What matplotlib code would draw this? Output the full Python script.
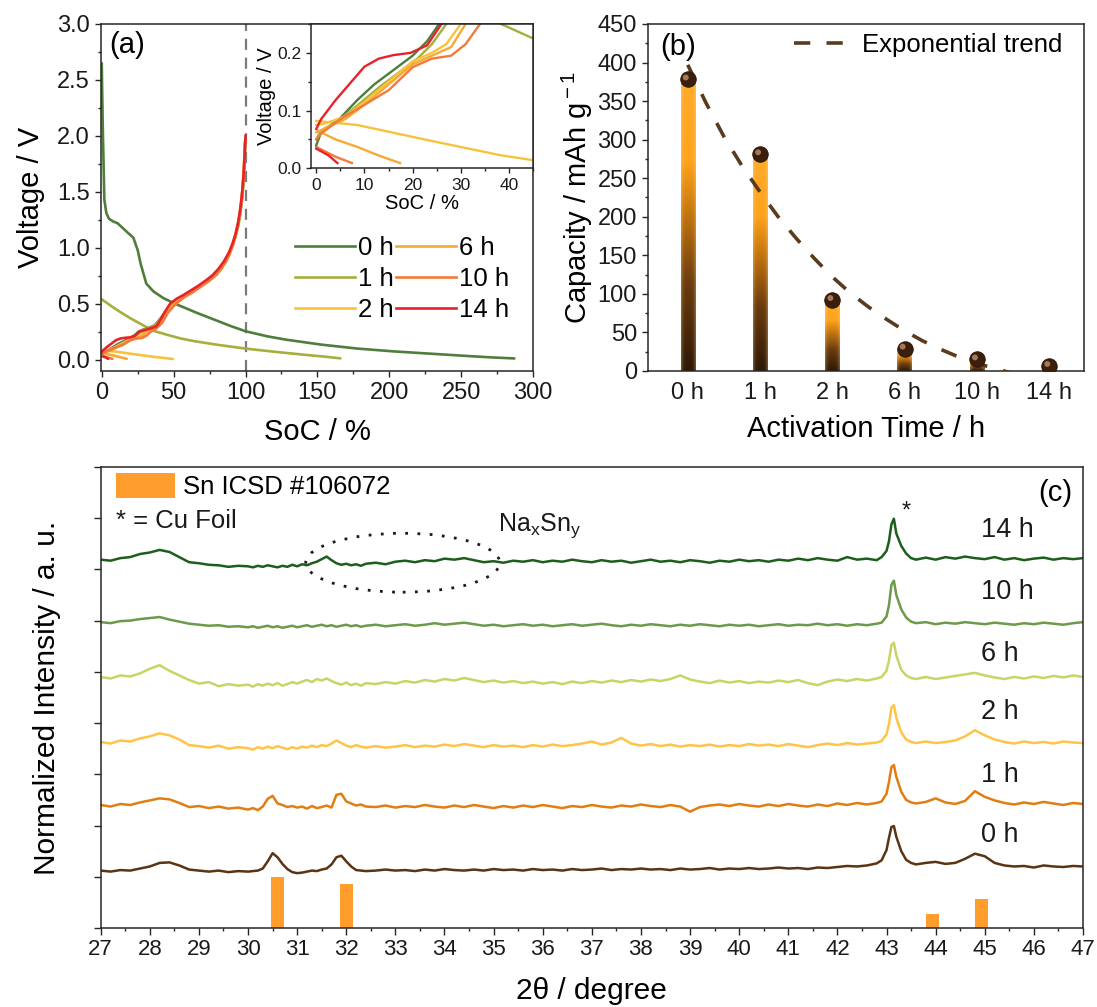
import numpy as np
import matplotlib
matplotlib.use('Agg')
import matplotlib.pyplot as plt
from matplotlib.patches import Ellipse, Patch
from matplotlib.colors import LinearSegmentedColormap
from matplotlib.ticker import MultipleLocator, NullFormatter
import matplotlib.transforms as mtransforms

plt.rcParams['font.family'] = ['Liberation Sans', 'DejaVu Sans']
plt.rcParams['mathtext.fontset'] = 'custom'
plt.rcParams['mathtext.rm'] = 'Liberation Sans'
plt.rcParams['mathtext.it'] = 'Liberation Sans'
plt.rcParams['axes.linewidth'] = 1.1

# ---------------- data: panel (a) ----------------
times = ['0 h', '1 h', '2 h', '6 h', '10 h', '14 h']
colors_a = ['#4f7d3b', '#a6ae3c', '#f6c33b', '#f7a935', '#f27a3a', '#e8222b']

dis_0h_soc = [0, 0.3, 0.8, 1.8, 3.2, 5, 8, 11, 16, 22, 25, 27, 31, 36, 43, 53, 66, 78, 90, 100,
              115, 128, 153, 178, 203, 228, 253, 270, 287]
dis_0h_v = [2.65, 2.4, 2.02, 1.43, 1.31, 1.26, 1.235, 1.22, 1.16, 1.09, 0.98, 0.86, 0.68, 0.61, 0.55,
            0.49, 0.42, 0.36, 0.30, 0.255, 0.21, 0.18, 0.135, 0.1, 0.075, 0.055, 0.035, 0.022, 0.012]
dis_1h_soc = [0, 10, 20, 30, 37, 45, 55, 65, 80, 100, 120, 140, 155, 166]
dis_1h_v = [0.54, 0.45, 0.37, 0.30, 0.255, 0.225, 0.19, 0.165, 0.135, 0.10, 0.072, 0.046, 0.028, 0.013]
dis_2h_soc = [0, 8.5, 23, 38, 45, 49.5]
dis_2h_v = [0.082, 0.075, 0.049, 0.023, 0.014, 0.007]
dis_6h_soc = [0.3, 4, 8.5, 13, 17.4]
dis_6h_v = [0.065, 0.05, 0.037, 0.022, 0.009]
dis_10h_soc = [0, 4, 7.4]
dis_10h_v = [0.037, 0.02, 0.009]
dis_14h_soc = [0, 2.6, 4.4]
dis_14h_v = [0.034, 0.022, 0.009]

chg_0h_soc = [0, 1, 5, 8.5, 12, 16, 20, 23, 25.5, 29, 33, 37, 41, 45, 49, 54, 59, 64, 69, 74,
              79, 83, 87, 90, 92.5, 94.5, 96, 97.3, 98.4, 99.2, 99.8]
chg_0h_v = [0.04, 0.062, 0.087, 0.118, 0.145, 0.17, 0.195, 0.22, 0.25, 0.27, 0.285, 0.31, 0.37, 0.44,
            0.5, 0.545, 0.58, 0.62, 0.665, 0.71, 0.76, 0.82, 0.9, 0.99, 1.08, 1.18, 1.29, 1.41, 1.56,
            1.74, 1.95]
chg_1h_soc = [0, 1, 5, 9, 13, 17, 21, 24, 27, 30, 34, 38, 42, 46, 50, 55, 60, 65, 70, 75,
              80, 84, 88, 90.5, 93, 95, 96.5, 97.7, 98.7, 99.4, 99.9]
chg_1h_v = [0.05, 0.065, 0.085, 0.112, 0.14, 0.165, 0.19, 0.215, 0.25, 0.27, 0.285, 0.32, 0.39, 0.46,
            0.51, 0.55, 0.585, 0.625, 0.665, 0.71, 0.76, 0.83, 0.92, 1.0, 1.1, 1.2, 1.31, 1.44, 1.6,
            1.78, 1.97]
chg_2h_soc = [0, 2, 6, 10, 15, 20, 24, 27, 30, 33, 37, 41, 45, 49, 53, 58, 63, 68, 73, 78,
              82, 86, 89, 91.5, 93.5, 95.3, 96.7, 97.8, 98.8, 99.5]
chg_2h_v = [0.075, 0.078, 0.09, 0.115, 0.15, 0.185, 0.2, 0.215, 0.25, 0.27, 0.29, 0.33, 0.41, 0.48,
            0.53, 0.57, 0.61, 0.655, 0.7, 0.75, 0.8, 0.88, 0.96, 1.05, 1.15, 1.26, 1.38, 1.52, 1.7, 1.92]
chg_6h_soc = [0, 2, 6, 10, 15, 20, 24, 28, 31, 34, 38, 42, 46, 50, 54, 59, 64, 69, 74, 79,
              83, 87, 90, 92.3, 94.2, 95.8, 97, 98.1, 99, 99.7]
chg_6h_v = [0.062, 0.07, 0.085, 0.11, 0.145, 0.18, 0.195, 0.21, 0.25, 0.275, 0.295, 0.35, 0.43, 0.49,
            0.535, 0.575, 0.615, 0.66, 0.705, 0.755, 0.81, 0.89, 0.98, 1.07, 1.17, 1.28, 1.4, 1.54,
            1.72, 1.94]
chg_10h_soc = [0, 1, 5, 10, 15, 20, 24, 28, 31, 34, 38, 42, 46, 50, 54, 58, 63, 68, 73, 78,
               82, 86, 89, 91.8, 93.8, 95.5, 96.8, 97.9, 98.9, 99.6]
chg_10h_v = [0.05, 0.06, 0.085, 0.11, 0.135, 0.175, 0.19, 0.195, 0.215, 0.25, 0.28, 0.33, 0.42, 0.48,
             0.525, 0.565, 0.6, 0.645, 0.69, 0.74, 0.795, 0.87, 0.95, 1.05, 1.15, 1.26, 1.38, 1.52,
             1.71, 1.93]
chg_14h_soc = [0, 1, 4, 7, 10, 13, 16, 19.6, 23, 26, 30, 34, 38, 41, 44, 47.5, 52, 57, 62, 67,
               72, 77, 81, 85, 88.5, 91, 93, 94.8, 96.3, 97.5, 98.6, 99.4, 100]
chg_14h_v = [0.068, 0.085, 0.118, 0.147, 0.176, 0.19, 0.196, 0.2, 0.213, 0.25, 0.265, 0.28, 0.3, 0.36,
             0.43, 0.5, 0.545, 0.58, 0.62, 0.66, 0.705, 0.755, 0.81, 0.88, 0.96, 1.04, 1.12, 1.22,
             1.34, 1.47, 1.64, 1.83, 2.0]

discharge = [(dis_0h_soc, dis_0h_v), (dis_1h_soc, dis_1h_v), (dis_2h_soc, dis_2h_v),
             (dis_6h_soc, dis_6h_v), (dis_10h_soc, dis_10h_v), (dis_14h_soc, dis_14h_v)]
charge = [(chg_0h_soc, chg_0h_v), (chg_1h_soc, chg_1h_v), (chg_2h_soc, chg_2h_v),
          (chg_6h_soc, chg_6h_v), (chg_10h_soc, chg_10h_v), (chg_14h_soc, chg_14h_v)]

# ---------------- data: panel (b) ----------------
capacity = [378, 281, 92, 29, 15, 6.5]
trend_x = [0, 0.25, 0.5, 0.75, 1, 1.25, 1.5, 1.75, 2, 2.25, 2.5, 2.75, 3, 3.25, 3.5, 3.75, 4, 4.25, 4.5]
trend_y = [397, 348, 304, 266, 232, 200, 172, 146, 122, 101, 83, 67, 52, 39, 28, 18, 10, 3, -3]

# ---------------- data: panel (c) ----------------
two_theta = [27.0, 27.2, 27.4, 27.6, 27.8, 28.0, 28.2, 28.4, 28.6, 28.8, 29.0, 29.2, 29.4, 29.6, 29.8,
             30.0, 30.1, 30.2, 30.3, 30.4, 30.5, 30.6, 30.7, 30.8, 30.9, 31.0, 31.1, 31.2, 31.3, 31.4,
             31.5, 31.6, 31.7, 31.8, 31.9, 32.0, 32.1, 32.2, 32.3, 32.4,
             32.6, 32.8, 33.0, 33.2, 33.4, 33.6, 33.8, 34.0, 34.2, 34.4,
             34.6, 34.8, 35.0, 35.2, 35.4, 35.6, 35.8, 36.0, 36.2, 36.4,
             36.6, 36.8, 37.0, 37.2, 37.4, 37.6, 37.8, 38.0, 38.2, 38.4,
             38.6, 38.8, 39.0, 39.2, 39.4, 39.6, 39.8, 40.0, 40.2, 40.4,
             40.6, 40.8, 41.0, 41.2, 41.4, 41.6, 41.8, 42.0, 42.2, 42.4,
             42.6, 42.8,
             42.9, 43.0, 43.05, 43.1, 43.15, 43.2, 43.3, 43.4, 43.5, 43.6,
             43.8, 44.0, 44.2, 44.4, 44.6, 44.8, 45.0, 45.2, 45.4, 45.6, 45.8, 46.0, 46.2, 46.4,
             46.6, 46.8, 47.0]

xrd_14h = [7.19, 7.17, 7.22, 7.24, 7.30, 7.33, 7.38, 7.34, 7.24, 7.14, 7.12, 7.09, 7.08, 7.05, 7.07,
           7.06, 7.04, 7.07, 7.05, 7.08, 7.06, 7.04, 7.07, 7.05, 7.09, 7.06, 7.10, 7.08, 7.12, 7.15,
           7.20, 7.25, 7.18, 7.12, 7.09, 7.11, 7.08, 7.10, 7.07, 7.11,
           7.13, 7.10, 7.15, 7.17, 7.14, 7.18, 7.16, 7.21, 7.19, 7.22,
           7.18, 7.14, 7.16, 7.13, 7.17, 7.15, 7.18, 7.14, 7.17, 7.15,
           7.19, 7.16, 7.14, 7.18, 7.15, 7.17, 7.13, 7.16, 7.19, 7.15,
           7.17, 7.14, 7.18, 7.16, 7.13, 7.17, 7.15, 7.19, 7.16, 7.18,
           7.15, 7.19, 7.17, 7.21, 7.18, 7.22, 7.19, 7.17, 7.24, 7.19,
           7.21, 7.18,
           7.24, 7.36, 7.55, 7.88, 7.99, 7.70, 7.46, 7.31, 7.22, 7.19,
           7.23, 7.19, 7.24, 7.21, 7.25, 7.22, 7.20, 7.24, 7.19, 7.22, 7.18, 7.21, 7.23, 7.19,
           7.22, 7.20, 7.22]
xrd_10h = [5.97, 5.95, 5.99, 6.00, 6.03, 6.05, 6.07, 6.02, 5.98, 5.94, 5.92, 5.90, 5.91, 5.88, 5.89,
           5.87, 5.89, 5.86, 5.88, 5.90, 5.87, 5.89, 5.86, 5.88, 5.90, 5.87, 5.89, 5.91, 5.88, 5.90,
           5.92, 5.89, 5.91, 5.88, 5.90, 5.92, 5.89, 5.91, 5.88, 5.90,
           5.92, 5.89, 5.91, 5.93, 5.90, 5.92, 5.95, 5.92, 5.94, 5.96,
           5.93, 5.90, 5.92, 5.89, 5.91, 5.93, 5.90, 5.92, 5.89, 5.91,
           5.93, 5.90, 5.92, 5.94, 5.91, 5.89, 5.92, 5.90, 5.93, 5.91,
           5.89, 5.92, 5.90, 5.93, 5.91, 5.89, 5.92, 5.90, 5.92, 5.89,
           5.91, 5.93, 5.90, 5.92, 5.91, 5.94, 5.91, 5.93, 5.90, 5.93,
           5.91, 5.94,
           5.96, 6.08, 6.30, 6.70, 6.78, 6.50, 6.22, 6.06, 5.98, 5.95,
           5.97, 5.93, 5.96, 5.94, 5.97, 5.95, 5.93, 5.96, 5.94, 5.92, 5.95, 5.93, 5.96, 5.94,
           5.92, 5.95, 5.97]
xrd_6h = [4.90, 4.87, 4.93, 4.91, 4.97, 5.06, 5.13, 5.02, 4.93, 4.84, 4.77, 4.80, 4.72, 4.76, 4.73,
          4.75, 4.71, 4.76, 4.73, 4.77, 4.74, 4.78, 4.73, 4.76, 4.80, 4.77, 4.81, 4.84, 4.80, 4.86,
          4.83, 4.87, 4.82, 4.78, 4.75, 4.79, 4.74, 4.77, 4.73, 4.78,
          4.76, 4.80, 4.77, 4.82, 4.79, 4.84, 4.81, 4.86, 4.83, 4.88,
          4.84, 4.80, 4.83, 4.79, 4.82, 4.78, 4.81, 4.77, 4.80, 4.76,
          4.81, 4.78, 4.82, 4.79, 4.83, 4.80, 4.84, 4.81, 4.85, 4.82,
          4.86, 4.93, 4.85, 4.81, 4.78, 4.83, 4.79, 4.82, 4.78, 4.81,
          4.79, 4.83, 4.80, 4.84, 4.78, 4.74, 4.81, 4.85, 4.82, 4.86,
          4.83, 4.87,
          4.90, 5.02, 5.22, 5.52, 5.57, 5.32, 5.04, 4.93, 4.88, 4.86,
          4.90, 4.86, 4.89, 4.92, 4.95, 4.98, 4.93, 4.89, 4.86, 4.90, 4.87, 4.91, 4.88, 4.92,
          4.89, 4.93, 4.90]
xrd_2h = [3.63, 3.60, 3.66, 3.64, 3.70, 3.74, 3.80, 3.76, 3.68, 3.57, 3.55, 3.52, 3.56, 3.50, 3.53,
          3.51, 3.48, 3.53, 3.50, 3.54, 3.51, 3.55, 3.52, 3.49, 3.53, 3.50, 3.54, 3.52, 3.56, 3.53,
          3.57, 3.55, 3.60, 3.66, 3.61, 3.56, 3.53, 3.57, 3.54, 3.52,
          3.55, 3.52, 3.54, 3.57, 3.53, 3.56, 3.54, 3.58, 3.55, 3.59,
          3.56, 3.53, 3.57, 3.54, 3.56, 3.53, 3.57, 3.54, 3.58, 3.55,
          3.57, 3.60, 3.64, 3.58, 3.62, 3.71, 3.60, 3.56, 3.59, 3.55,
          3.58, 3.54, 3.57, 3.55, 3.58, 3.54, 3.57, 3.55, 3.59, 3.56,
          3.58, 3.55, 3.59, 3.56, 3.53, 3.57, 3.60, 3.57, 3.61, 3.58,
          3.60, 3.62,
          3.65, 3.78, 3.98, 4.30, 4.35, 4.10, 3.82, 3.68, 3.63, 3.61,
          3.64, 3.61, 3.63, 3.66, 3.74, 3.86, 3.76, 3.68, 3.63, 3.60, 3.64, 3.61, 3.63, 3.60,
          3.64, 3.62, 3.61]
xrd_1h = [2.40, 2.37, 2.42, 2.40, 2.45, 2.49, 2.53, 2.51, 2.44, 2.36, 2.38, 2.34, 2.37, 2.33, 2.35,
          2.31, 2.34, 2.30, 2.37, 2.52, 2.58, 2.43, 2.40, 2.36, 2.38, 2.35, 2.37, 2.33, 2.38, 2.34,
          2.36, 2.39, 2.35, 2.60, 2.62, 2.47, 2.43, 2.39, 2.41, 2.37,
          2.36, 2.39, 2.35, 2.38, 2.36, 2.40, 2.37, 2.35, 2.39, 2.36,
          2.40, 2.37, 2.34, 2.38, 2.35, 2.39, 2.36, 2.40, 2.37, 2.34,
          2.38, 2.36, 2.40, 2.37, 2.35, 2.39, 2.37, 2.41, 2.38, 2.36,
          2.40, 2.37, 2.27, 2.36, 2.39, 2.41, 2.38, 2.42, 2.39, 2.37,
          2.41, 2.38, 2.42, 2.39, 2.37, 2.41, 2.38, 2.43, 2.40, 2.44,
          2.41, 2.44,
          2.47, 2.62, 2.85, 3.14, 3.18, 2.95, 2.66, 2.50, 2.45, 2.43,
          2.46, 2.53, 2.45, 2.42, 2.48, 2.67, 2.56, 2.49, 2.44, 2.41, 2.45, 2.42, 2.46, 2.43,
          2.40, 2.44, 2.42]
xrd_0h = [1.12, 1.10, 1.13, 1.12, 1.16, 1.20, 1.27, 1.28, 1.22, 1.14, 1.12, 1.10, 1.12, 1.09, 1.11,
          1.10, 1.11, 1.12, 1.16, 1.30, 1.46, 1.38, 1.25, 1.15, 1.09, 1.07, 1.08, 1.10, 1.12, 1.11,
          1.14, 1.16, 1.24, 1.38, 1.41, 1.30, 1.20, 1.13, 1.12, 1.11,
          1.12, 1.14, 1.12, 1.13, 1.11, 1.14, 1.12, 1.15, 1.13, 1.12,
          1.14, 1.12, 1.15, 1.13, 1.14, 1.12, 1.15, 1.13, 1.14, 1.12,
          1.15, 1.13, 1.14, 1.16, 1.13, 1.15, 1.14, 1.16, 1.14, 1.15,
          1.13, 1.16, 1.14, 1.15, 1.17, 1.14, 1.16, 1.15, 1.17, 1.15,
          1.16, 1.18, 1.16, 1.17, 1.15, 1.18, 1.17, 1.19, 1.21, 1.20,
          1.22, 1.26,
          1.32, 1.52, 1.76, 1.97, 1.99, 1.78, 1.50, 1.33, 1.27, 1.24,
          1.27, 1.29, 1.25, 1.27, 1.35, 1.45, 1.40, 1.27, 1.22, 1.20, 1.21, 1.18, 1.22, 1.20,
          1.19, 1.21, 1.20]

xrd_series = [xrd_0h, xrd_1h, xrd_2h, xrd_6h, xrd_10h, xrd_14h]
colors_c = ['#5b3414', '#e27d12', '#ffc447', '#c9d466', '#6c9a4a', '#1d5e1c']
label_y = [1.81, 2.98, 4.22, 5.35, 6.56, 7.77]

sn_pos = [30.60, 32.00, 43.93, 44.93]
sn_height = [0.99, 0.85, 0.27, 0.57]

for s in xrd_series:
    assert len(s) == len(two_theta), (len(s), len(two_theta))

# ---------------- figure ----------------
fig = plt.figure(figsize=(10.97, 10.07), dpi=100)
axA = fig.add_axes([0.0921, 0.6316, 0.3938, 0.3446])
axIn = fig.add_axes([0.2839, 0.8329, 0.2020, 0.1433])
axB = fig.add_axes([0.5907, 0.6316, 0.3974, 0.3446])
axC = fig.add_axes([0.0918, 0.0785, 0.8954, 0.4578])

spine_col = '#262626'


def style(ax, labelsize=16.5):
    for sp in ax.spines.values():
        sp.set_color(spine_col)
    ax.tick_params(which='both', direction='out', colors=spine_col, width=1.0,
                   labelsize=labelsize, labelcolor='#1a1a1a', top=False, right=False)
    ax.tick_params(which='major', length=4.5)
    ax.tick_params(which='minor', length=2.3)


# ---- panel (a)
style(axA, labelsize=17)
for (xs, ys), col in zip(discharge, colors_a):
    axA.plot(xs, ys, color=col, lw=1.9, solid_capstyle='round')
handles = []
for (xs, ys), col, lab in zip(charge, colors_a, times):
    h, = axA.plot(xs, ys, color=col, lw=1.9, label=lab)
    handles.append(h)
axA.axvline(100, color='#7a7a7a', lw=1.6, ls=(0, (5, 3.5)), zorder=0)
axA.set_xlim(-0.5, 300)
axA.set_ylim(-0.1, 3.0)
axA.xaxis.set_major_locator(MultipleLocator(50))
axA.xaxis.set_minor_locator(MultipleLocator(25))
axA.yaxis.set_major_locator(MultipleLocator(0.5))
axA.yaxis.set_minor_locator(MultipleLocator(0.25))
axA.yaxis.set_major_formatter(matplotlib.ticker.FormatStrFormatter('%.1f'))
axA.set_xlabel('SoC / %', fontsize=21, labelpad=10)
axA.set_ylabel('Voltage / V', fontsize=21, labelpad=9)
axA.text(0.02, 0.94, '(a)', transform=axA.transAxes, fontsize=21, va='center', ha='left')
axA.legend(handles=handles, ncol=2, loc='upper left', bbox_to_anchor=(0.448, 0.39),
           frameon=False, fontsize=18.5, handlelength=2.35, handletextpad=0.12,
           columnspacing=0.08, labelspacing=0.28, borderpad=0, borderaxespad=0)

# ---- inset
style(axIn, labelsize=12.5)
for (xs, ys), col in zip(discharge, colors_a):
    axIn.plot(xs, ys, color=col, lw=1.7)
for (xs, ys), col in zip(charge, colors_a):
    axIn.plot(xs, ys, color=col, lw=1.7)
axIn.set_xlim(-1, 45)
axIn.set_ylim(0, 0.25)
axIn.xaxis.set_major_locator(MultipleLocator(10))
axIn.xaxis.set_minor_locator(MultipleLocator(5))
axIn.yaxis.set_major_locator(MultipleLocator(0.1))
axIn.yaxis.set_minor_locator(MultipleLocator(0.05))
axIn.yaxis.set_major_formatter(matplotlib.ticker.FormatStrFormatter('%.1f'))
axIn.tick_params(which='major', length=3.5)
axIn.tick_params(which='minor', length=2)
axIn.set_xlabel('SoC / %', fontsize=14.5, labelpad=1)
axIn.set_ylabel('Voltage / V', fontsize=14.5, labelpad=1)

# ---- panel (b)
style(axB, labelsize=17)
xpos = np.arange(len(times))
bars = axB.bar(xpos, capacity, width=0.2, color='none', edgecolor='none', zorder=2)
bar_cmap = LinearSegmentedColormap.from_list(
    'bar', [(0.0, '#2e1806'), (0.3, '#6b3c0e'), (0.55, '#c8780f'), (0.72, '#ffa31c'), (1.0, '#ffab2a')])
vert = np.linspace(0, 1, 200)[:, None] * np.ones((1, 40))
horiz = np.ones((200, 1)) * np.abs(np.linspace(-1, 1, 40))[None, :]
for rect in bars:
    img = bar_cmap(vert)[..., :3]
    edge = (horiz ** 4)[..., None] * 0.35
    img = img * (1 - edge) + edge * np.array([1.0, 0.88, 0.55])
    x0, y0 = rect.get_x(), rect.get_y()
    im = axB.imshow(img, extent=[x0, x0 + rect.get_width(), y0, y0 + rect.get_height()],
                    origin='lower', aspect='auto', zorder=2, interpolation='bilinear')
    im.set_clip_path(rect)
tr, = axB.plot(trend_x, trend_y, color='#5b3b1e', lw=2.6, dashes=(4.5, 4.5), zorder=3,
               label='Exponential trend')
axB.scatter(xpos, capacity, s=125, color='#3a1f0c', edgecolor='#2a1406', linewidth=0.6, zorder=5)
hl = mtransforms.offset_copy(axB.transData, fig=fig, x=-2.0, y=2.0, units='dots')
axB.scatter(xpos, capacity, s=18, color='#a4795a', edgecolor='none', zorder=6, transform=hl)
axB.set_xlim(-0.55, 5.48)
axB.set_ylim(0, 450)
axB.set_xticks(xpos)
axB.set_xticklabels(times)
axB.tick_params(axis='x', which='both', length=0, pad=8)
axB.yaxis.set_major_locator(MultipleLocator(50))
axB.yaxis.set_minor_locator(MultipleLocator(25))
axB.set_xlabel('Activation Time / h', fontsize=21, labelpad=8)
axB.set_ylabel('Capacity / mAh g$^{\\rm -1}$', fontsize=21, labelpad=2)
axB.text(0.028, 0.935, '(b)', transform=axB.transAxes, fontsize=21, va='center', ha='left')
axB.legend(handles=[tr], loc='upper left', bbox_to_anchor=(0.335, 0.975), frameon=False,
           fontsize=18.5, handlelength=1.9, handletextpad=0.75, borderpad=0, borderaxespad=0)

# ---- panel (c)
style(axC, labelsize=16)
for ys, col in zip(xrd_series, colors_c):
    axC.plot(two_theta, ys, color=col, lw=1.8)
axC.bar(sn_pos, sn_height, width=0.27, color='#ff9e2c', zorder=2)
for lab, ly in zip(times, label_y):
    axC.text(44.92, ly, lab, fontsize=19.5, va='center', ha='left', color='#1a1a1a')
axC.text(43.40, 8.12, '*', fontsize=17, ha='center', va='center', color='#1a1a1a')
axC.text(35.08, 7.85, 'Na$_{\\rm x}$Sn$_{\\rm y}$', fontsize=18, ha='left', va='center',
         color='#1a1a1a')
axC.add_patch(Ellipse((33.15, 7.13), 3.95, 1.15, fill=False, edgecolor='#1a1a1a', lw=2.0,
                      ls=(0, (1, 3.4))))
axC.text(27.31, 7.95, '* = Cu Foil', fontsize=18.5, ha='left', va='center', color='#1a1a1a')
axC.text(0.989, 0.943, '(c)', transform=axC.transAxes, fontsize=21, va='center', ha='right')
axC.legend(handles=[Patch(facecolor='#ff9e2c', edgecolor='none')], labels=['Sn ICSD #106072'],
           loc='upper left', bbox_to_anchor=(0.0155, 0.987), frameon=False, fontsize=18.5,
           handlelength=2.3, handleheight=1.1, handletextpad=0.3, borderpad=0, borderaxespad=0)
axC.set_xlim(27, 47)
axC.set_ylim(0, 9)
axC.xaxis.set_major_locator(MultipleLocator(1))
axC.xaxis.set_minor_locator(MultipleLocator(0.5))
axC.yaxis.set_major_locator(MultipleLocator(1))
axC.yaxis.set_major_formatter(NullFormatter())
axC.tick_params(axis='y', which='major', length=5)
axC.tick_params(axis='x', which='major', length=4.8)
axC.tick_params(axis='x', which='minor', length=2.4)
axC.set_xlabel('2θ / degree', fontsize=21.5, labelpad=12)
axC.set_ylabel('Normalized Intensity / a. u.', fontsize=21.5, labelpad=20)

fig.savefig('out.png', dpi=100)
